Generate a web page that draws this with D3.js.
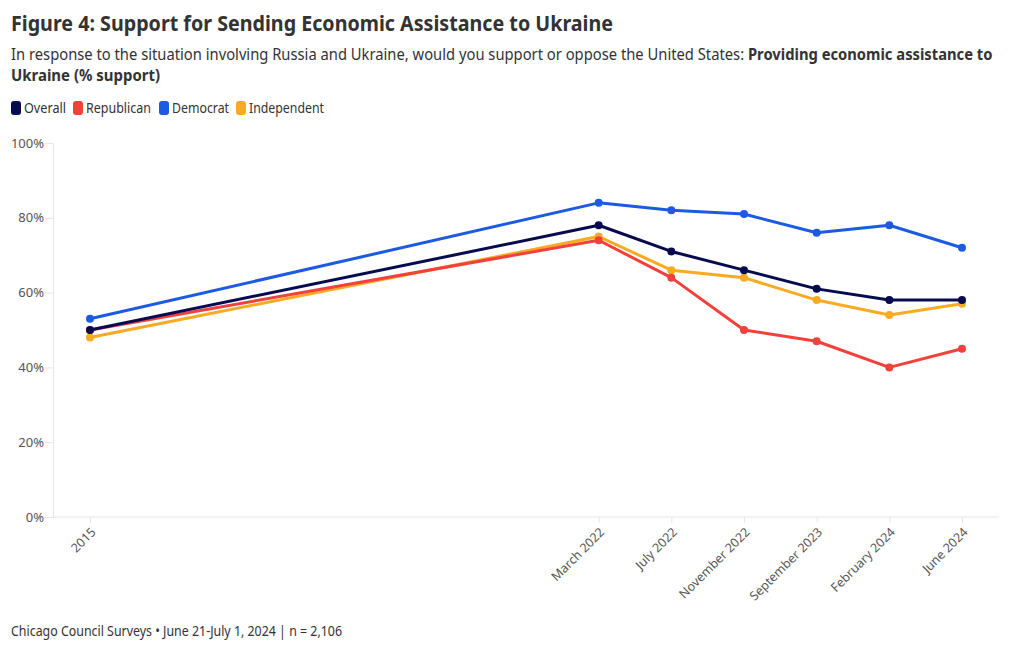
<!DOCTYPE html>
<html><head><meta charset="utf-8">
<script src="https://cdn.jsdelivr.net/npm/d3@7"></script>
<style>
body{margin:0;background:#fff;font-family:"Noto Sans",sans-serif;}
</style></head>
<body><svg id="c" width="1020" height="650"></svg>
<script>
const categories = ["2015","March 2022","July 2022","November 2022","September 2023","February 2024","June 2024"];
const slots = [0,7,8,9,10,11,12];
const seriesNames = ["Overall","Republican","Democrat","Independent"];
const overall = [50,78,71,66,61,58,58];
const republican = [50,74,64,50,47,40,45];
const democrat = [53,84,82,81,76,78,72];
const independent = [48,75,66,64,58,54,57];
const yTicks = [0,20,40,60,80,100];
const colors = ["#060a4f","#f2413a","#1c5ae4","#f8aa22"];

const seriesVals = [overall, republican, democrat, independent];
const svg = d3.select("#c");
const font = '"Noto Sans", sans-serif';

function fit(sel, w){
  sel.attr("textLength", w).attr("lengthAdjust","spacingAndGlyphs");
  return sel;
}

fit(svg.append("text").attr("x",11).attr("y",31).attr("font-size",21.5).attr("font-weight",700)
  .attr("fill","#333").attr("font-family",font).text("Figure 4: Support for Sending Economic Assistance to Ukraine"), 602);
const subG = svg.append("g");
const sub = subG.append("text").attr("x",0).attr("y",0).attr("font-size",16).attr("fill","#333").attr("font-family",font);
sub.append("tspan").text("In response to the situation involving Russia and Ukraine, would you support or oppose the United States: ");
sub.append("tspan").attr("font-weight",700).text("Providing economic assistance to");
const subW = sub.node().getComputedTextLength();
subG.attr("transform",`translate(11,60) scale(${983/subW},1)`);
fit(svg.append("text").attr("x",11).attr("y",81).attr("font-size",16).attr("font-weight",700).attr("fill","#333").attr("font-family",font).text("Ukraine (% support)"), 149);

// legend
const legX = [11,73,159,236];
const legW = [42,65,57,75];
seriesNames.forEach((n,i)=>{
  svg.append("rect").attr("x",legX[i]).attr("y",101).attr("width",10).attr("height",14).attr("rx",3).attr("fill",colors[i]);
  fit(svg.append("text").attr("x",legX[i]+13).attr("y",113).attr("font-size",13.5).attr("fill","#333").attr("font-family",font).text(n), legW[i]);
});

const x = d3.scaleLinear().domain([0,12]).range([90,962]);
const y = d3.scaleLinear().domain([0,100]).range([517,143]);

// axes
const gy = svg.append("g").attr("transform","translate(53,0)")
  .call(d3.axisLeft(y).tickValues(yTicks).tickSize(8).tickFormat(d=>d+"%"));
gy.select(".domain").attr("stroke","#e6e6e6");
gy.selectAll(".tick line").attr("stroke","#e6e6e6");
gy.selectAll(".tick text").attr("font-size",13).attr("fill","#555").attr("font-family",font).attr("x",-9);

svg.append("line").attr("x1",53).attr("x2",999).attr("y1",517).attr("y2",517).attr("stroke","#e6e6e6");
const gx = svg.append("g").attr("transform","translate(0,517)")
  .call(d3.axisBottom(x).tickValues(slots).tickSize(6).tickFormat((d,i)=>categories[i]));
gx.select(".domain").remove();
gx.selectAll(".tick line").attr("stroke","#e6e6e6");
gx.selectAll(".tick text").attr("font-size",12.5).attr("fill","#555").attr("font-family",font)
  .attr("text-anchor","end").attr("dy",0).attr("y",0)
  .attr("transform","translate(6,16) rotate(-45)");

const line = d3.line().x((d,i)=>x(slots[i])).y(d=>y(d));
const order = [2,3,1,0];
order.forEach(si=>{
  const g = svg.append("g");
  g.append("path").datum(seriesVals[si]).attr("d",line).attr("fill","none")
    .attr("stroke",colors[si]).attr("stroke-width",3).attr("stroke-linejoin","round");
  g.selectAll("circle").data(seriesVals[si]).join("circle")
    .attr("cx",(d,i)=>x(slots[i])).attr("cy",d=>y(d)).attr("r",4).attr("fill",colors[si]);
});

fit(svg.append("text").attr("x",11).attr("y",636).attr("font-size",13.5).attr("fill","#333").attr("font-family",font)
  .text("Chicago Council Surveys \u2022 June 21-July 1, 2024 | n = 2,106"), 331);
</script></body></html>
